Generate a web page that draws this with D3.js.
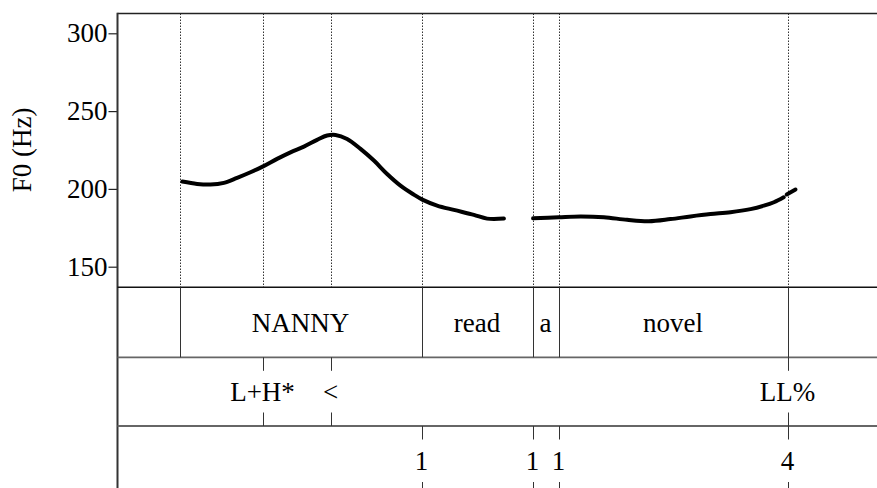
<!DOCTYPE html>
<html>
<head>
<meta charset="utf-8">
<script src="https://cdn.jsdelivr.net/npm/d3@7"></script>
<style>
  html, body { margin: 0; padding: 0; background: #fff; }
  svg { display: block; }
</style>
</head>
<body>
<svg id="chart" width="877" height="488"></svg>
<script>
// F0 contour (time in s, frequency in Hz), three voiced stretches
const pitchSeg1 = [
  [0.162, 204.7], [0.199, 203.2], [0.2325, 202.8], [0.266, 203.9], [0.299, 207.1],
  [0.3325, 210.7], [0.364, 214.5], [0.399, 219.3], [0.4325, 223.5], [0.466, 227.2],
  [0.499, 231.5], [0.524, 234.3], [0.545, 234.7], [0.574, 232.1], [0.6075, 225.7],
  [0.641, 218.2], [0.674, 209.6], [0.7075, 202.1], [0.741, 196.3], [0.762, 193.1],
  [0.799, 189.3], [0.841, 186.5], [0.891, 183.3], [0.924, 180.9], [0.966, 180.9]
];
const pitchSeg2 = [
  [1.039, 181.1], [1.103, 181.8], [1.1575, 182.3], [1.216, 181.8], [1.274, 180.1],
  [1.328, 179.2], [1.3825, 180.6], [1.4325, 182.3], [1.4825, 183.8], [1.5325, 185.0],
  [1.5825, 187.0], [1.616, 189.2], [1.641, 191.4], [1.6655, 194.6]
];
const pitchSeg3 = [
  [1.673, 196.4], [1.695, 199.6]
];

// Word tier: interval boundaries and labels
const wordBounds = [0.155, 0.76, 1.0375, 1.1025, 1.675];
const words = [
  { start: 0.155, end: 0.76, label: "NANNY" },
  { start: 0.76, end: 1.0375, label: "read" },
  { start: 1.0375, end: 1.1025, label: "a" },
  { start: 1.1025, end: 1.675, label: "novel" }
];

// Tone tier (points)
const tones = [
  { t: 0.3625, label: "L+H*" },
  { t: 0.5325, label: "<" },
  { t: 1.675, label: "LL%" }
];

// Break-index tier (points)
const breaks = [
  { t: 0.76, label: "1" },
  { t: 1.0375, label: "1" },
  { t: 1.1025, label: "1" },
  { t: 1.675, label: "4" }
];

const yTicks = [150, 200, 250, 300];

// ---- layout ----
const left = 117.5, right = 877;
const pitchTop = 13.5, pitchBottom = 287.3;
const tier1Bottom = 357.3, tier2Bottom = 426, tier3Bottom = 495.5;
const fontSize = 27;
const serif = "'Liberation Serif', 'Times New Roman', Tinos, serif";

const x = d3.scaleLinear().domain([0, 2]).range([left, left + 800]);
const y = d3.scaleLinear().domain([150, 300]).range([266.7, 33.3]);

const svg = d3.select("#chart");

// dotted guide lines through the pitch panel at every annotation time
const guideTimes = Array.from(new Set([
  ...wordBounds, ...tones.map(d => d.t), ...breaks.map(d => d.t)
])).sort((a, b) => a - b);

svg.append("g").selectAll("line").data(guideTimes).join("line")
  .attr("x1", d => Math.round(x(d)) + 0.5).attr("x2", d => Math.round(x(d)) + 0.5)
  .attr("y1", pitchTop).attr("y2", pitchBottom)
  .attr("stroke", "#333").attr("stroke-width", 1)
  .attr("stroke-dasharray", "1.5,1.5");

// pitch contour
const line = d3.line().x(d => x(d[0])).y(d => y(d[1])).curve(d3.curveCatmullRom);
svg.append("g").selectAll("path").data([pitchSeg1, pitchSeg2, pitchSeg3]).join("path")
  .attr("d", line)
  .attr("fill", "none").attr("stroke", "#000")
  .attr("stroke-width", 4).attr("stroke-linecap", "round").attr("stroke-linejoin", "round");

// y axis
const yAxis = d3.axisLeft(y).tickValues(yTicks).tickSize(9).tickPadding(1);
const gy = svg.append("g").attr("transform", `translate(${left},0)`).call(yAxis);
gy.select(".domain").remove();
gy.selectAll(".tick line").attr("stroke", "#222").attr("stroke-width", 1.2);
gy.selectAll(".tick text")
  .style("font-family", serif)
  .attr("font-size", fontSize).attr("fill", "#000");

svg.append("text")
  .attr("transform", `translate(30.5,150) rotate(-90)`)
  .attr("text-anchor", "middle")
  .style("font-family", serif)
  .attr("font-size", fontSize)
  .text("F0 (Hz)");

// frame: top and left edges, panel divider
svg.append("line").attr("x1", left).attr("x2", right).attr("y1", pitchTop).attr("y2", pitchTop)
  .attr("stroke", "#222").attr("stroke-width", 1.6);
svg.append("line").attr("x1", left).attr("x2", left).attr("y1", pitchTop - 0.8).attr("y2", 488)
  .attr("stroke", "#333").attr("stroke-width", 2);
svg.append("line").attr("x1", left).attr("x2", right).attr("y1", pitchBottom).attr("y2", pitchBottom)
  .attr("stroke", "#111").attr("stroke-width", 1.6);
[tier1Bottom, tier2Bottom].forEach(yy => {
  svg.append("line").attr("x1", left).attr("x2", right).attr("y1", yy).attr("y2", yy)
    .attr("stroke", "#666").attr("stroke-width", 1.8);
});

// word tier boundaries and labels
const t1 = svg.append("g");
t1.selectAll("line").data(wordBounds).join("line")
  .attr("x1", d => Math.round(x(d)) + 0.5).attr("x2", d => Math.round(x(d)) + 0.5)
  .attr("y1", pitchBottom).attr("y2", tier1Bottom)
  .attr("stroke", "#333").attr("stroke-width", 1);
t1.selectAll("text").data(words).join("text")
  .attr("x", d => (x(d.start) + x(d.end)) / 2)
  .attr("y", (pitchBottom + tier1Bottom) / 2 + 9.5)
  .attr("text-anchor", "middle").attr("font-size", fontSize)
  .style("font-family", serif)
  .text(d => d.label);

// point tiers: short marks at top and bottom, label centred on the point
function pointTier(data, top, bottom, lowerDash) {
  const g = svg.append("g");
  const mid = (top + bottom) / 2;
  g.selectAll("line.up").data(data).join("line").attr("class", "up")
    .attr("x1", d => Math.round(x(d.t)) + 0.5).attr("x2", d => Math.round(x(d.t)) + 0.5)
    .attr("y1", top).attr("y2", top + 13.5)
    .attr("stroke", "#333").attr("stroke-width", 1);
  g.selectAll("line.down").data(data).join("line").attr("class", "down")
    .attr("x1", d => Math.round(x(d.t)) + 0.5).attr("x2", d => Math.round(x(d.t)) + 0.5)
    .attr("y1", bottom - 13.5).attr("y2", bottom)
    .attr("stroke", "#333").attr("stroke-width", 1)
    .attr("stroke-dasharray", lowerDash ? "6,3" : null);
  g.selectAll("text").data(data).join("text")
    .attr("x", d => x(d.t))
    .attr("y", mid + 9.5)
    .attr("text-anchor", "middle").attr("font-size", fontSize)
    .style("font-family", serif)
    .text(d => d.label);
}
pointTier(tones, tier1Bottom, tier2Bottom, false);
pointTier(breaks, tier2Bottom, tier3Bottom, true);
</script>
</body>
</html>
